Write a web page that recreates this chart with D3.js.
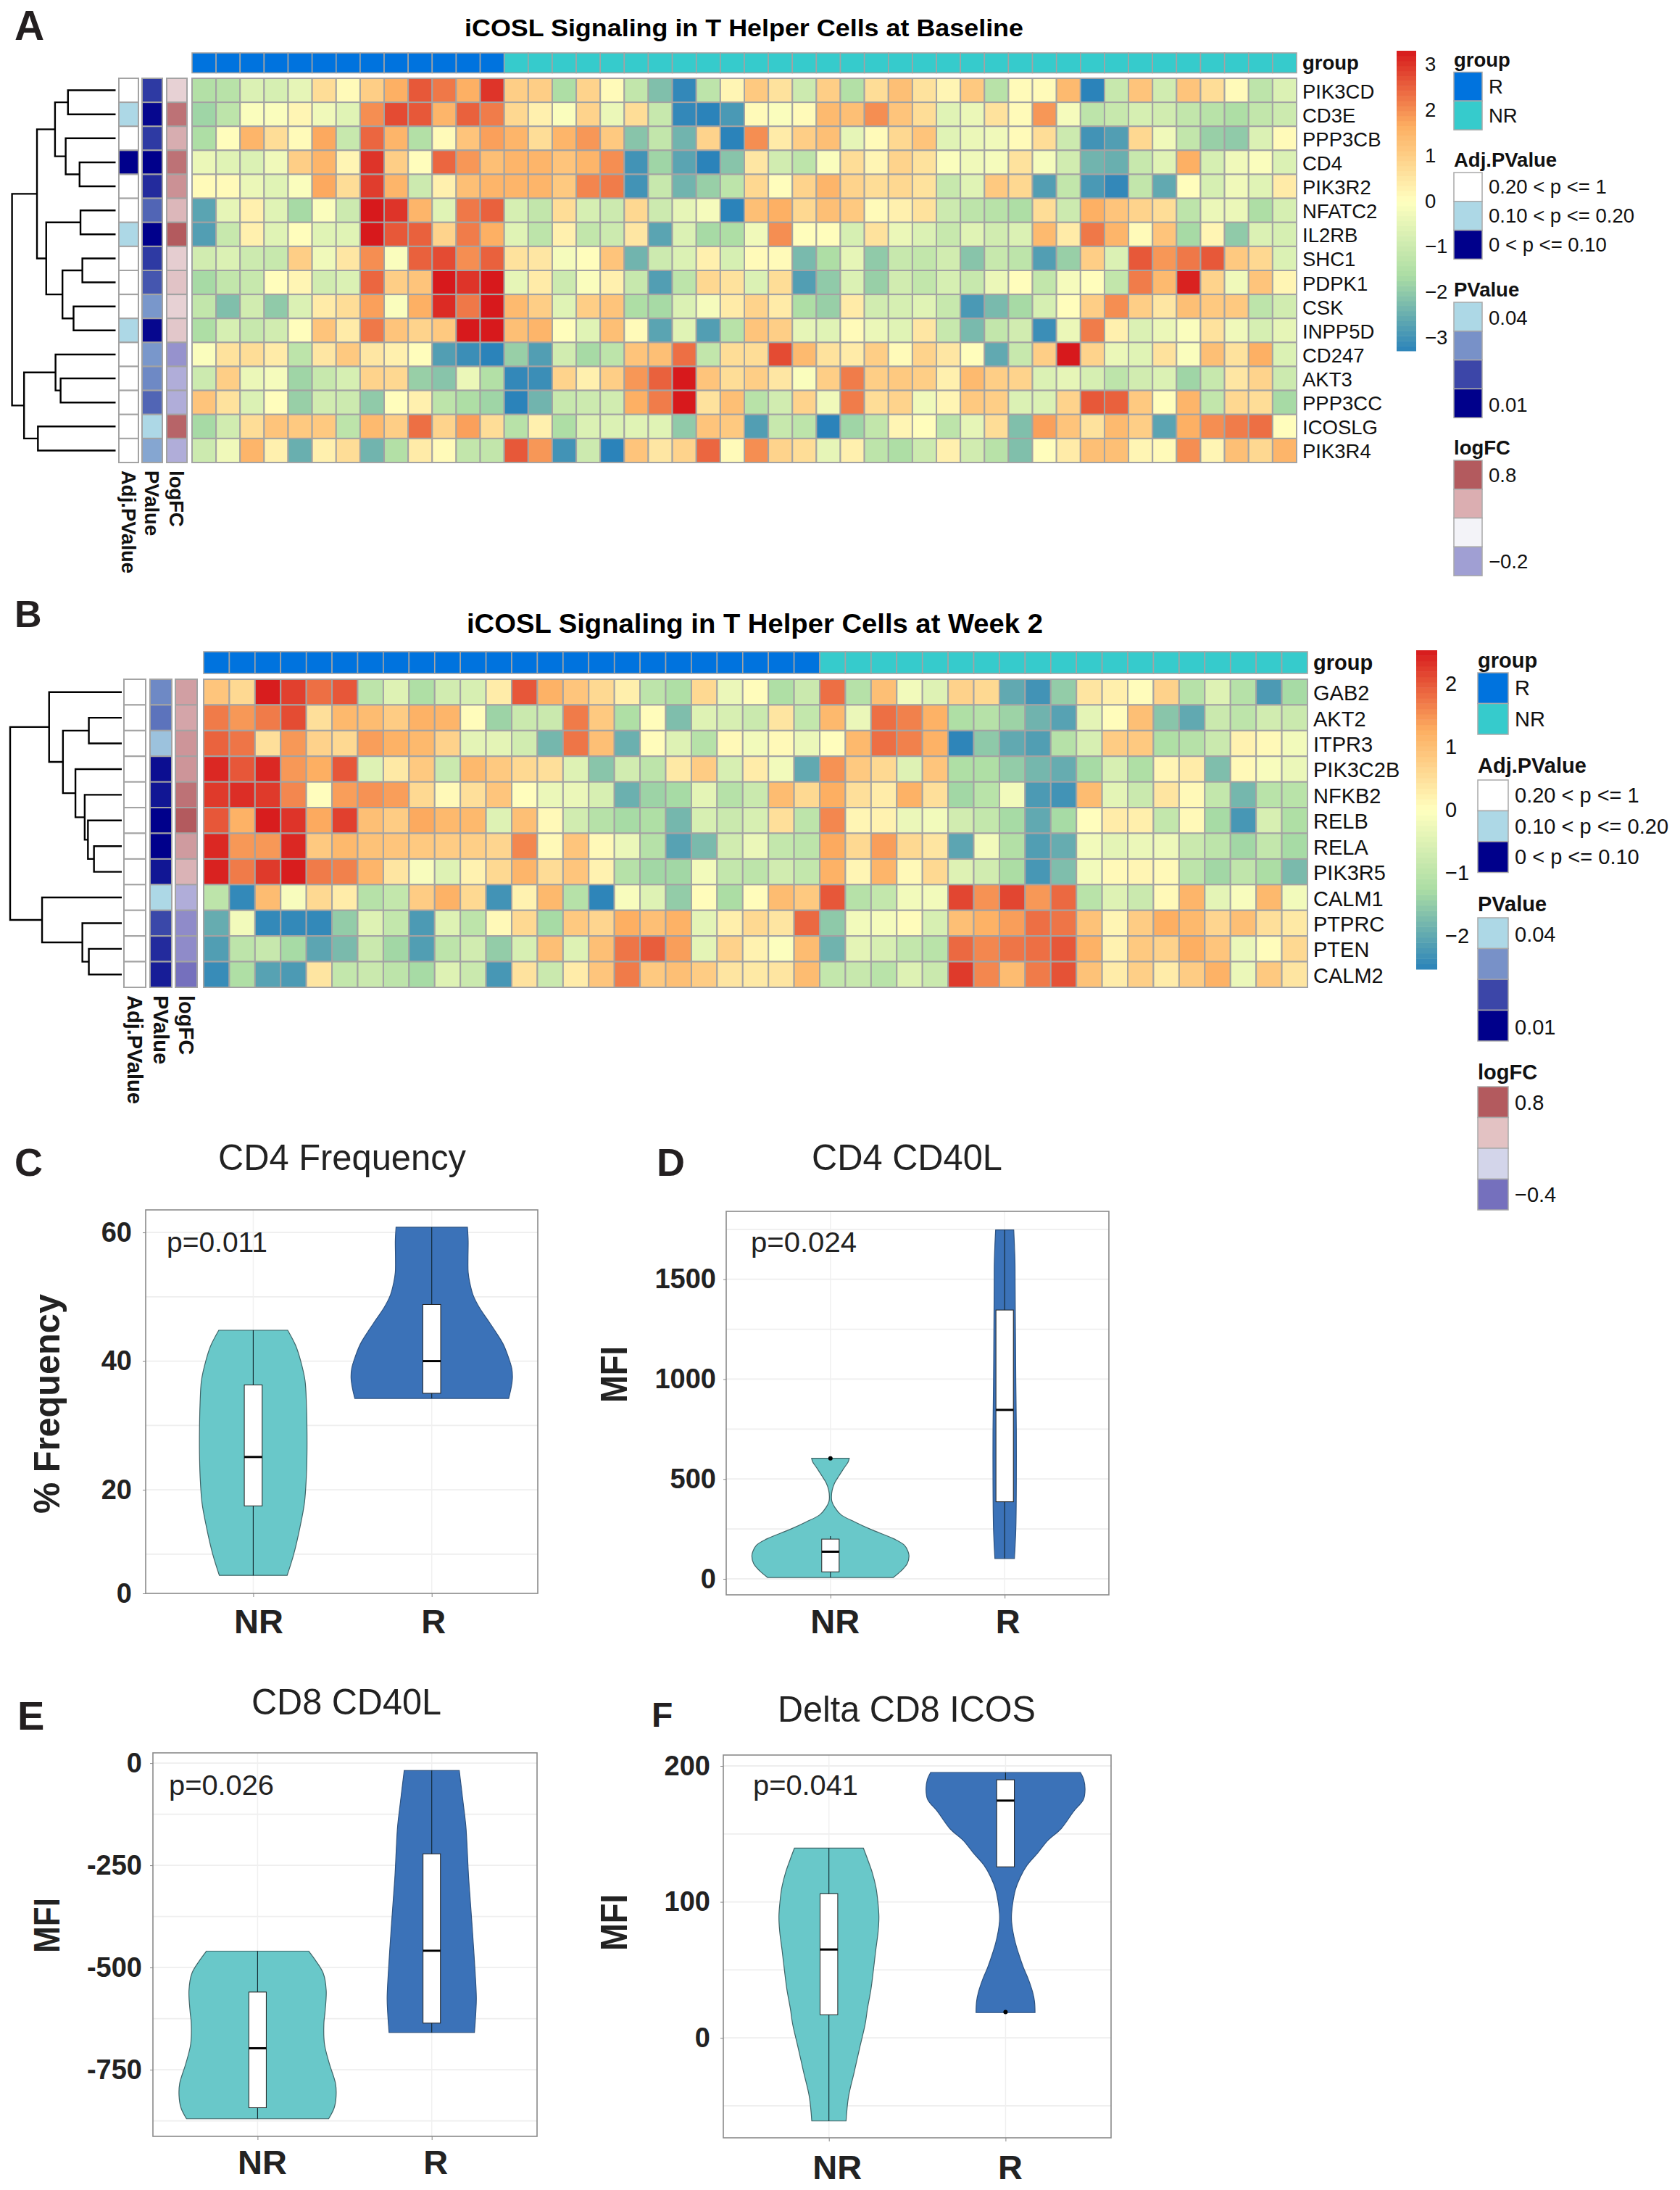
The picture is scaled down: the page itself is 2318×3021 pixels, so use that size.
<!DOCTYPE html>
<html><head><meta charset="utf-8">
<script src="https://cdn.jsdelivr.net/npm/d3@7"></script>
<style>html,body{margin:0;padding:0;background:#fff}svg{display:block}text{font-family:"Liberation Sans",Arial,sans-serif}</style>
</head><body><div id="c"></div>
<script>
// ---------- DATA ----------
const genesA=["PIK3CD","CD3E","PPP3CB","CD4","PIK3R2","NFATC2","IL2RB","SHC1","PDPK1","CSK","INPP5D","CD247","AKT3","PPP3CC","ICOSLG","PIK3R4"];
const genesB=["GAB2","AKT2","ITPR3","PIK3C2B","NFKB2","RELB","RELA","PIK3R5","CALM1","PTPRC","PTEN","CALM2"];
const nRespondersA=13, nNonRespondersA=33, nRespondersB=24, nNonRespondersB=19;
const heatA=[
[-1.5,-1.4,-0.7,-0.8,-0.5,0.7,0.1,1.0,1.6,2.6,2.25,1.6,3.0,1.0,1.0,-1.6,0.9,0.1,-1.2,-2.2,-3.2,-1.3,0.2,1.1,0.6,-1.0,1.0,-1.5,0.7,1.3,0.6,0.2,1.1,-1.4,0.1,0.1,1.4,-3.3,-1.1,1.2,-0.9,1.2,0.7,0.1,-1.3,-0.7],
[-1.8,-1.3,-0.1,-0.1,0.2,-0.3,-0.6,2.0,2.75,2.6,1.5,2.5,2.2,0.8,0.3,-0.1,0.9,-0.4,0.7,-1.1,-3.2,-3.3,-2.9,0.1,-0.1,0.1,1.4,1.3,2.0,1.2,0.7,-0.6,-0.4,0.6,0.1,1.9,-0.2,-1.3,-1.1,-0.8,-0.9,-1.2,-1.4,-1.6,-1.2,-1.0],
[-1.6,0.05,1.5,0.7,0.1,1.7,-1.1,2.45,1.5,-1.5,0.1,1.2,1.8,1.5,0.7,1.5,1.9,1.1,-2.1,-1.2,-2.4,0.9,-3.3,2.0,0.4,1.0,1.3,-0.5,0.1,0.8,1.2,-0.6,-0.4,-0.3,0.1,0.7,-1.0,-3.0,-2.8,0.8,-0.3,-1.2,-1.9,-2.0,-0.7,0.1],
[-0.4,-0.6,-0.7,-0.3,1.0,1.5,0.2,3.0,1.0,0.05,2.45,1.9,1.3,1.5,1.5,1.2,1.5,2.0,-3.0,-1.8,-2.7,-3.3,-2.1,0.5,-0.9,-1.3,-0.1,0.7,0.2,0.9,0.6,-0.1,-0.3,-0.2,0.6,-0.2,-0.9,-2.4,-2.5,-1.1,-0.6,1.6,-0.8,-0.3,-0.1,-0.7],
[0.1,0.1,-0.4,-0.6,-0.1,1.7,0.7,2.9,1.5,-1.0,0.3,1.3,1.5,1.5,1.5,1.1,2.1,2.2,-3.0,-1.1,-2.4,-1.9,-1.3,0.8,0.05,0.9,1.5,0.9,0.7,0.8,0.6,-1.1,-0.6,1.1,0.8,-2.8,-1.2,-2.9,-3.2,-1.2,-2.6,0.05,-0.8,-0.3,-0.6,0.4],
[-2.7,-0.5,0.3,-0.6,-1.7,-0.1,-1.0,3.3,3.0,1.5,-0.6,2.25,2.5,-0.8,-1.2,0.7,-0.8,-1.0,0.8,-1.0,-0.5,-0.2,-3.3,1.3,1.6,0.8,1.3,1.1,0.1,0.3,0.6,-1.0,-1.3,-1.4,-1.6,0.7,-1.0,1.6,1.2,0.9,0.7,-1.3,-0.4,-0.4,-1.6,-0.8],
[-2.8,-1.1,0.3,-0.6,0.05,-0.6,-0.6,3.3,2.6,2.5,0.9,2.2,1.6,-0.6,-1.3,0.3,-1.2,-1.0,0.5,-2.7,-0.7,-1.7,-1.6,-0.3,2.0,0.05,0.05,-0.8,0.6,-0.4,-0.7,-1.1,-0.6,-0.9,-0.7,1.4,0.4,2.25,1.5,0.1,1.2,-1.7,0.2,-2.0,-0.7,-0.8],
[-0.9,-0.7,-1.0,-1.1,1.0,-0.3,0.5,2.0,-0.1,2.5,2.75,2.0,2.5,0.6,0.5,-0.2,0.05,1.2,-2.4,-1.0,-0.7,0.3,-0.8,0.1,0.1,-2.3,-1.6,-0.5,-2.0,-1.1,-1.2,-0.9,-2.1,-1.1,-1.3,-2.8,-1.9,1.0,-0.7,2.6,1.9,2.25,2.6,1.1,0.8,-0.7],
[-1.7,-1.2,-1.1,0.05,0.2,-0.9,-0.7,2.45,1.0,1.2,3.3,3.0,3.3,-0.5,0.4,-1.0,-0.1,0.3,-1.1,-2.8,-1.3,0.8,0.6,-0.7,0.7,-2.8,-2.0,-0.7,-1.9,-0.9,-1.2,-0.8,-1.1,-0.4,0.05,-1.2,-0.2,0.05,-1.2,2.2,1.4,3.2,0.9,-0.3,1.2,0.2],
[-1.2,-2.2,-0.9,-2.0,-0.7,0.4,0.7,1.8,-0.1,1.6,3.1,2.25,3.3,1.4,1.0,-0.6,1.0,1.2,-1.6,-1.7,-0.7,-0.2,0.4,0.9,0.4,-1.6,-1.9,0.4,-0.9,-0.8,-0.6,-1.1,-2.9,-2.3,-1.7,-0.8,0.05,1.0,2.0,1.0,0.5,1.3,1.1,1.1,-1.3,-0.9],
[-1.6,-0.8,-1.1,-0.9,0.05,1.2,0.4,2.25,1.2,0.9,1.1,3.3,3.3,1.3,1.5,0.05,-0.6,1.3,0.1,-2.7,-0.6,-2.8,-1.4,1.2,1.0,-0.5,-0.6,0.1,-0.4,-0.6,0.5,-1.1,-2.3,-1.2,-0.9,-3.1,-0.4,2.2,0.3,-0.7,-0.4,-0.1,0.6,-0.3,-0.8,-0.5],
[-0.1,0.6,0.7,0.4,-1.3,0.5,1.1,0.5,0.3,0.05,-2.8,-3.1,-3.3,-1.9,-2.8,-0.9,-1.7,-1.3,1.2,1.3,2.35,-1.2,0.7,0.7,2.75,1.4,0.6,0.4,1.0,0.1,0.9,0.5,0.05,-2.6,-1.1,1.0,3.3,0.9,-0.4,-0.6,0.6,-0.1,1.3,0.6,1.6,-0.7],
[-1.0,1.0,-0.4,-0.2,-1.8,-1.1,-0.8,0.9,0.8,-1.9,-2.1,-0.4,-1.5,-3.2,-3.1,0.9,0.3,1.0,1.9,2.5,3.3,1.2,0.7,1.0,0.5,-0.1,1.0,2.2,1.0,1.1,1.0,0.3,1.4,1.0,0.9,-0.7,-0.5,-0.8,-1.3,-0.9,-0.7,-1.8,-1.1,0.5,0.9,-1.0],
[1.2,0.6,-0.7,0.05,-1.9,-0.9,-1.0,-2.0,0.05,0.3,-1.3,-1.6,-1.8,-3.3,-2.4,-1.1,-1.0,-0.9,1.6,2.2,3.3,0.6,1.3,-1.4,-0.9,0.9,-0.3,2.2,0.7,0.9,-0.3,0.2,1.1,1.0,-0.7,-0.7,0.9,2.6,2.5,1.1,0.05,1.5,-1.2,0.8,0.7,-1.7],
[-1.7,-0.9,0.7,1.2,1.1,1.1,-1.3,1.4,1.0,2.35,0.9,1.8,0.7,-1.4,0.3,-1.6,-0.7,-0.7,-0.6,-0.6,-2.0,1.2,1.1,-2.8,-1.1,-1.3,-3.3,-1.8,-1.2,0.2,0.05,-1.3,-0.5,0.7,-2.2,1.8,1.2,0.6,1.4,1.0,-2.7,1.6,2.0,2.2,2.35,0.05],
[-1.0,-0.3,1.5,0.3,-2.5,0.3,0.7,-2.4,-1.5,0.4,0.1,-1.2,-1.2,2.6,1.9,-3.0,-1.0,-3.3,1.2,0.5,0.9,2.45,0.1,2.0,0.9,0.7,-0.5,0.3,-1.3,-1.6,-1.0,0.3,-0.9,-1.4,-2.2,0.05,0.4,1.3,1.3,0.2,0.1,2.0,0.2,1.3,0.8,1.5]
];
const heatB=[
[0.9,0.6,2.5,2.2,1.8,2.0,-1.0,-0.5,-1.2,-0.7,-0.6,0.3,2.0,1.2,0.9,0.6,0.25,-1.0,-1.2,0.6,-0.3,0.05,-1.2,-0.8,1.8,-1.1,1.0,-0.2,-0.5,0.7,0.6,-2.0,-2.3,-1.5,0.4,0.25,0.05,0.7,-1.1,-0.5,-1.1,-2.2,-1.3],
[1.7,1.45,1.7,2.1,0.5,1.1,1.05,0.8,1.2,1.15,0.05,-1.4,-0.8,-0.8,1.7,0.85,-1.2,0.05,-1.7,-0.5,-0.6,-0.8,0.4,-0.9,1.1,-0.3,1.8,1.65,1.2,-1.2,-1.1,-1.4,-1.85,-2.1,-0.4,0.05,1.0,-1.6,-2.0,-0.8,-1.0,-0.7,-0.8],
[1.9,1.75,0.5,1.45,0.7,0.6,1.4,1.2,1.1,0.7,-0.4,-0.4,-0.7,-1.8,1.75,1.0,-1.9,0.05,-0.5,-1.1,0.1,-0.2,0.1,-0.3,0.03,1.1,1.8,1.65,1.2,-2.5,-1.55,-2.0,-2.15,-1.1,-0.6,0.8,0.85,-1.2,-1.1,-0.8,0.2,0.1,-0.2],
[2.4,2.0,2.4,1.45,1.25,2.0,-0.5,0.35,0.85,-0.8,1.1,0.85,0.6,0.5,-0.5,-1.6,-0.7,-1.0,0.35,0.8,-0.6,0.3,-0.2,-2.0,1.5,0.85,0.6,-0.5,0.9,-1.2,-1.2,-1.5,-1.8,-1.95,-1.3,-0.6,-1.2,0.15,0.3,-1.7,0.1,-0.1,-0.3],
[2.25,2.35,2.25,1.6,0.03,1.4,1.5,1.4,0.6,0.1,0.5,0.9,0.03,-0.3,-0.3,-0.6,-1.9,-1.4,-1.3,-0.4,-1.1,-0.8,1.05,0.6,1.25,0.5,0.3,1.2,0.5,-1.35,-1.05,-0.2,-2.2,-2.3,1.05,-0.4,-0.8,0.4,0.1,-0.9,-1.8,-1.05,-1.05],
[2.0,1.2,2.5,2.3,1.3,2.2,1.0,0.8,1.3,1.1,1.1,-0.5,1.0,0.1,-0.7,-1.1,-1.3,-1.2,-1.8,-0.6,-0.8,-0.6,0.5,-1.0,1.6,0.15,0.2,-0.3,-0.2,-0.7,-0.9,-1.3,-2.0,-1.3,0.03,0.3,0.25,-0.9,0.1,-1.3,-2.25,-0.6,-1.2],
[2.4,1.45,1.45,2.4,0.85,1.1,0.95,0.9,0.85,0.8,0.75,0.65,1.6,0.1,0.9,0.1,-0.3,-1.1,-2.1,-1.75,-0.7,-0.3,-0.9,-1.0,1.3,0.6,1.4,0.6,0.4,-2.05,-0.2,-1.15,-2.15,-1.95,-0.2,-0.4,-0.3,-0.25,-0.8,-1.0,-1.35,-0.9,-1.3],
[2.45,1.7,2.25,2.5,1.7,1.65,1.15,0.4,-0.1,-0.5,0.2,0.6,1.15,0.55,0.9,0.2,-1.1,-1.35,-1.35,-0.2,-0.9,-1.0,-0.7,-0.9,1.2,0.15,1.15,0.1,0.6,-0.5,-0.7,-1.25,-2.25,-1.7,-0.2,0.1,0.15,0.1,-1.0,-1.35,-0.95,-1.25,-1.75],
[-1.0,-2.45,1.05,-0.1,0.6,0.3,-1.1,-0.9,0.8,1.2,0.6,-2.3,0.2,1.1,-1.1,-2.5,-0.1,-0.5,-1.5,0.05,-1.25,0.05,1.05,0.85,2.0,-1.1,-0.9,-0.2,-0.2,2.15,1.5,2.15,1.45,1.85,-1.05,-0.5,-0.8,0.1,1.15,-0.4,-0.1,1.1,-0.2],
[-1.95,-0.2,-2.45,-2.45,-2.45,-1.5,-0.5,-0.9,-2.2,-0.5,-1.0,0.1,0.6,-1.3,0.85,0.65,1.25,1.0,1.2,-0.4,0.25,0.6,0.4,1.85,-1.55,-0.2,-0.15,0.05,-0.6,1.0,1.2,1.4,1.8,1.75,0.95,0.15,0.8,1.25,1.1,0.65,1.0,0.5,0.35],
[-2.15,-1.0,-0.85,-1.3,-2.05,-1.75,-0.8,-1.35,-2.15,-1.0,-0.7,-1.5,-0.6,1.0,-0.5,1.0,1.75,1.95,1.4,-0.4,0.7,0.2,-0.05,1.05,-1.85,-0.4,-0.6,-0.9,-1.05,1.85,1.6,1.75,1.8,2.0,1.2,0.2,0.85,0.7,1.25,0.9,-0.3,0.05,0.6],
[-2.4,-1.2,-2.1,-2.2,0.4,-0.9,-0.8,-1.0,-1.3,-0.5,-0.8,-2.25,0.45,-0.8,0.3,0.9,1.7,0.85,1.0,0.8,0.4,0.35,0.4,1.05,-0.9,-0.85,-1.05,-0.5,-0.8,2.25,1.6,1.05,1.7,2.05,0.95,0.3,0.75,0.3,0.8,1.2,-0.3,0.85,0.4]
];
const adjA=[0,1,0,2,0,0,1,0,0,0,1,0,0,0,0,0];
const adjB=[0,0,0,0,0,0,0,0,0,0,0,0];
const pvalA=[.018,.011,.018,.010,.016,.024,.010,.018,.022,.031,.011,.031,.029,.024,.040,.033];
const pvalB=[.029,.026,.037,.012,.013,.010,.010,.013,.040,.020,.016,.014];
const lfcA=[.2,.68,.38,.68,.52,.33,.8,.22,.27,.2,.25,-.3,-.22,-.22,.75,-.22];
const lfcB=[.45,.42,.5,.5,.68,.8,.47,.35,-.22,-.32,-.32,-.4];
// dendrograms: [merge height, left, right]; leaves are row indexes
const treeA=[1,[.759,[.585,[.46,0,1],[.482,2,[.348,3,4]]],[.67,[.339,5,6],[.513,[.321,7,8],[.406,9,10]]]],[.884,[.58,11,[.531,12,13]],[.75,14,15]]];
const treeB=[1,[.651,0,[.527,[.295,1,2],[.415,3,[.332,4,[.303,5,[.249,6,7]]]]]],[.714,8,[.353,9,[.295,10,11]]]];
const adjLabels=["0.20 < p <= 1","0.10 < p <= 0.20","0 < p <= 0.10"];
const groupLabels=["R","NR"];
const violinGroups=["NR","R"];
// violin outlines: [value, half width in units of group spacing]
const cNR=[[44.8,.193],[42.4,.238],[40,.266],[37,.29],[33.2,.298],[29.4,.301],[25.6,.301],[21.8,.297],[18,.287],[14.2,.262],[10,.227],[6.7,.19]];
const cR=[[60.8,.2],[58.7,.204],[56,.203],[53.8,.204],[52.2,.213],[50.3,.231],[48.4,.265],[46.5,.311],[44.6,.357],[42.7,.399],[40.8,.427],[38.9,.448],[37.4,.452],[35.9,.445],[34.2,.431]];
const dNR=[[604,.108],[584,.101],[554,.077],[517,.05],[480,.024],[444,.01],[413,.006],[389,.008],[358,.025],[321.5,.06],[285,.14],[248,.231],[199,.368],[169,.424],[138,.445],[114,.451],[77,.441],[40,.406],[7,.361]];
const dR=[[1747,.052],[1593,.059],[1471,.06],[1227,.062],[982,.064],[738,.067],[493,.067],[249,.064],[102,.056]];
const eNR=[[-460,.294],[-484,.335],[-514,.377],[-556,.394],[-610,.387],[-634,.381],[-687,.384],[-735,.412],[-783,.447],[-813,.451],[-843,.44],[-870,.408]];
const eR=[[-18,.158],[-96,.18],[-155,.196],[-215,.204],[-275,.211],[-335,.221],[-394,.231],[-484,.245],[-574,.256],[-610,.253],[-659,.245]];
const fNR=[[139.6,.195],[130.6,.221],[121.7,.245],[110.9,.266],[100.2,.277],[89.4,.283],[78.7,.279],[64.3,.265],[50,.252],[35.7,.238],[21.3,.218],[10.6,.206],[-7.4,.174],[-25.3,.143],[-43.2,.111],[-61.1,.097]];
const fR=[[195.2,.424],[189.8,.443],[182.6,.45],[175.4,.441],[166.5,.385],[153.9,.315],[145,.238],[136,.182],[127,.122],[118.1,.083],[109.1,.056],[100.2,.042],[91.2,.034],[85.8,.034],[78.7,.041],[69.7,.056],[60.7,.077],[51.8,.101],[42.8,.13],[33.8,.153],[26.7,.164],[18.6,.167]];
// box stats: [q1, median, q3, whisker low, whisker high, outlier or null]
const cBox=[[17.5,25.1,36.3,6.7,44.8,null],[35,40,48.8,34.2,60.8,null]];
const dBox=[[35,136,199,7,214,603],[386,846,1346,102,1747,null]];
const eBox=[[-843,-697.5,-560,-870,-460,null],[-636,-459,-222,-659,-18,null]];
const fBox=[[17,65,106,-61.1,139.6,null],[125.8,174.5,189.8,125.8,195.2,19]];

// ---------- LAYOUT ----------
const W=2318,H=3021,GRID="#a3a3a3",FONT='"Liberation Sans",Arial,sans-serif';
const svg=d3.select("#c").append("svg").attr("width",W).attr("height",H).attr("viewBox",`0 0 ${W} ${H}`);
const colR="#0073de",colNR="#36cbcc";
const spectral=["#2b83ba","#abdda4","#ffffbf","#fdae61","#d7191c"];
const pCol=d3.scaleLinear().domain([.01,.04]).range(["#00008b","#add8e6"]);
const lfcCol=d3.scaleLinear().domain([-.4,0,.8]).range(["#7570bd","#f8f8fb","#b35a5e"]);
const adjCol=["#ffffff","#add8e6","#00008b"];

function txt(g,s,x,y,size,opt={}){
  const t=g.append("text").attr("x",x).attr("y",y).attr("font-size",size).attr("fill",opt.fill||"#111")
    .attr("font-weight",opt.bold?"bold":"normal").attr("text-anchor",opt.anchor||"start").text(s);
  if(opt.middle) t.attr("dominant-baseline","central");
  if(opt.len) t.attr("textLength",opt.len).attr("lengthAdjust","spacingAndGlyphs");
  if(opt.rot!=null) t.attr("transform",`rotate(${opt.rot} ${x} ${y})`);
  return t;
}
function heatPanel(c){
  const g=svg.append("g");
  const n=c.data[0].length;
  const x=d3.scaleBand().domain(d3.range(n)).range([c.x0,c.x1]);
  const y=d3.scaleBand().domain(d3.range(c.genes.length)).range([c.y0,c.y1]);
  const col=d3.scaleLinear().domain([-c.max,-c.max/2,0,c.max/2,c.max]).range(spectral);
  const groupOf=d3.range(n).map(i=>i<c.nR?0:1);
  g.selectAll(null).data(groupOf).join("rect").attr("x",(d,i)=>x(i)).attr("y",c.ay0).attr("width",x.bandwidth()).attr("height",c.ay1-c.ay0)
    .attr("fill",d=>d?colNR:colR).attr("stroke",GRID).attr("stroke-width",1.6);
  c.data.forEach((row,r)=>{
    g.selectAll(null).data(row).join("rect").attr("x",(d,i)=>x(i)).attr("y",y(r)).attr("width",x.bandwidth()).attr("height",y.bandwidth())
      .attr("fill",d=>col(d)).attr("stroke",GRID).attr("stroke-width",2);
  });
  const annots=[[c.adjX,c.adj.map(d=>adjCol[d])],[c.pX,c.pval.map(d=>pCol(d))],[c.lfcX,c.lfc.map(d=>lfcCol(d))]];
  annots.forEach(([ax,cols])=>{
    g.selectAll(null).data(cols).join("rect").attr("x",ax[0]).attr("y",(d,i)=>y(i)).attr("width",ax[1]-ax[0]).attr("height",y.bandwidth())
      .attr("fill",d=>d).attr("stroke",GRID).attr("stroke-width",2);
  });
  ["Adj.PValue","PValue","logFC"].forEach((s,i)=>{
    const ax=annots[i][0], cx=(ax[0]+ax[1])/2-c.fs*.36;
    txt(g,s,cx,c.annY,c.fs,{bold:true,rot:90});
  });
  c.genes.forEach((s,i)=>txt(g,s,c.labelX,y(i)+y.bandwidth()/2+1.5,c.fs,{middle:true}));
  txt(g,"group",c.labelX,(c.ay0+c.ay1)/2,c.fs,{bold:true,middle:true});
  txt(g,c.title,c.tx,c.ty,c.tfs,{bold:true,len:c.tlen,fill:"#000"});
  txt(g,c.letter,c.lx,c.ly,c.lfs,{bold:true,fill:"#231f20"});
  const dx=d3.scaleLinear().domain([0,1]).range([c.dLeaf,c.dRoot]);
  const dp=d3.path();
  (function walk(n){
    if(typeof n==="number") return {x:dx(0),y:y(n)+y.bandwidth()/2};
    const a=walk(n[1]),b=walk(n[2]),nx=dx(n[0]);
    dp.moveTo(a.x,a.y);dp.lineTo(nx,a.y);dp.lineTo(nx,b.y);dp.lineTo(b.x,b.y);
    return {x:nx,y:(a.y+b.y)/2};
  })(c.tree);
  g.append("path").attr("d",dp.toString()).attr("fill","none").attr("stroke","#000").attr("stroke-width",2.4);
  const by=d3.scaleLinear().domain([-c.max,c.max]).range([c.barY1,c.barY0]);
  const bands=d3.range(60).map(i=>-c.max+(i+.5)*2*c.max/60);
  g.selectAll(null).data(bands).join("rect").attr("x",c.barX[0]).attr("width",c.barX[1]-c.barX[0])
    .attr("y",d=>by(d+c.max/60)).attr("height",d=>by(d-c.max/60)-by(d+c.max/60)+.5).attr("fill",d=>col(d));
  c.barTicks.forEach(v=>txt(g,v<0?"\u2212"+(-v):String(v),c.barX[1]+c.barPad,by(v),c.fs,{middle:true}));
  const L=c.leg;
  function swatches(top,cols){
    g.selectAll(null).data(cols).join("rect").attr("x",L.x).attr("width",L.w).attr("y",(d,i)=>top+i*L.h).attr("height",L.h)
      .attr("fill",d=>d).attr("stroke","#a9a9a9").attr("stroke-width",1.5);
  }
  txt(g,"group",L.x,L.groupT,c.fs,{bold:true,middle:true});
  swatches(L.group,[colR,colNR]);
  groupLabels.forEach((s,i)=>txt(g,s,L.x+L.w+L.pad,L.group+(i+.5)*L.h,c.fs,{middle:true}));
  txt(g,"Adj.PValue",L.x,L.adjT,c.fs,{bold:true,middle:true});
  swatches(L.adj,adjCol);
  adjLabels.forEach((s,i)=>txt(g,s,L.x+L.w+L.pad,L.adj+(i+.5)*L.h,c.fs,{middle:true}));
  txt(g,"PValue",L.x,L.pT,c.fs,{bold:true,middle:true});
  swatches(L.p,["#add8e6","#7891c8","#3c46a8","#00008b"]);
  txt(g,"0.04",L.x+L.w+L.pad,L.p+.55*L.h,c.fs,{middle:true});
  txt(g,"0.01",L.x+L.w+L.pad,L.p+3.55*L.h,c.fs,{middle:true});
  txt(g,"logFC",L.x,L.lT,c.fs,{bold:true,middle:true});
  swatches(L.l,L.lCols);
  txt(g,"0.8",L.x+L.w+L.pad,L.l+.52*L.h,c.fs,{middle:true});
  txt(g,L.lMin,L.x+L.w+L.pad,L.l+3.5*L.h,c.fs,{middle:true});
}
heatPanel({data:heatA,genes:genesA,nR:nRespondersA,adj:adjA,pval:pvalA,lfc:lfcA,tree:treeA,max:3.3,
  x0:265,x1:1789,y0:108,y1:638,ay0:73,ay1:100.5,adjX:[164,191],pX:[196,224],lfcX:[230,258],annY:649,fs:27.5,labelX:1797,
  title:"iCOSL Signaling in T Helper Cells at Baseline",tx:641,ty:50,tfs:34,tlen:771,letter:"A",lx:20,ly:55,lfs:57,
  dLeaf:159.5,dRoot:16.6,barX:[1927,1954],barY0:70,barY1:484,barPad:12,barTicks:[3,2,1,0,-1,-2,-3],
  leg:{x:2006,w:39,h:39.8,pad:9,groupT:82,group:99.5,adjT:220,adj:238,pT:399,p:417,lT:617,l:635,lMin:"\u22120.2",lCols:["#b35a5e","#dbaeb1","#f3f3f8","#a09fd3"]}});
heatPanel({data:heatB,genes:genesB,nR:nRespondersB,adj:adjB,pval:pvalB,lfc:lfcB,tree:treeB,max:2.53,
  x0:281,x1:1804,y0:937,y1:1362,ay0:899,ay1:929,adjX:[171,201],pX:[207,237],lfcX:[242,272],annY:1373,fs:29,labelX:1812,
  title:"iCOSL Signaling in T Helper Cells at Week 2",tx:644,ty:873,tfs:36,tlen:795,letter:"B",lx:20,ly:865,lfs:52,
  dLeaf:168,dRoot:14,barX:[1954,1983],barY0:897,barY1:1337,barPad:11,barTicks:[2,1,0,-1,-2],
  leg:{x:2039,w:42,h:42.5,pad:9,groupT:910.5,group:928,adjT:1056,adj:1076,pT:1247,p:1266,lT:1479,l:1499,lMin:"\u22120.4",lCols:["#b35a5e","#e3c2c3","#d3d5ea","#7570bd"]}});

function violinPanel(c){
  const g=svg.append("g");
  const [l,r,t,b]=c.box;
  const y=d3.scaleLinear().domain(c.domain).range([b,t]);
  const x=d3.scalePoint().domain(violinGroups).range(c.cx);
  const step=x.step();
  g.append("rect").attr("x",l).attr("y",t).attr("width",r-l).attr("height",b-t).attr("fill","#fff");
  c.minor.concat(c.major).forEach(v=>g.append("line").attr("x1",l).attr("x2",r).attr("y1",y(v)).attr("y2",y(v)).attr("stroke","#eeeeee").attr("stroke-width",1.8));
  violinGroups.forEach(s=>g.append("line").attr("x1",x(s)).attr("x2",x(s)).attr("y1",t).attr("y2",b).attr("stroke","#f0f0f0").attr("stroke-width",1.5));
  [[c.nr,"#69c8c9","#3f6467"],[c.rr,"#3b72b8","#2d5280"]].forEach(([prof,fill,edge],i)=>{
    const cx=x(violinGroups[i]);
    const area=d3.area().y(d=>y(d[0])).x0(d=>cx-d[1]*step).x1(d=>cx+d[1]*step).curve(d3.curveCatmullRom.alpha(.5));
    g.append("path").attr("d",area(prof)+"Z").attr("fill",fill).attr("stroke",edge).attr("stroke-width",1.2);
    const [q1,med,q3,lo,hi,out]=c.boxes[i];
    const bw=.05*step;
    g.append("line").attr("x1",cx).attr("x2",cx).attr("y1",y(lo)).attr("y2",y(hi)).attr("stroke","#10242c").attr("stroke-width",1.1);
    g.append("rect").attr("x",cx-bw).attr("width",2*bw).attr("y",y(q3)).attr("height",y(q1)-y(q3)).attr("fill","#fff").attr("stroke","#222").attr("stroke-width",1);
    g.append("line").attr("x1",cx-bw).attr("x2",cx+bw).attr("y1",y(med)).attr("y2",y(med)).attr("stroke","#000").attr("stroke-width",3);
    if(out!=null) g.append("circle").attr("cx",cx).attr("cy",y(out)).attr("r",3).attr("fill","#000");
  });
  g.append("rect").attr("x",l).attr("y",t).attr("width",r-l).attr("height",b-t).attr("fill","none").attr("stroke","#8a8a8a").attr("stroke-width",1.6);
  const ya=g.append("g").attr("transform",`translate(${l},0)`).call(d3.axisLeft(y).tickValues(c.ticks).tickFormat((d,i)=>c.tickLabels[i]).tickSize(4).tickPadding(c.tickPad));
  ya.select(".domain").remove();
  ya.selectAll("line").attr("stroke","#888");
  ya.selectAll("text").attr("font-size",38).attr("font-weight","bold").attr("font-family",FONT).attr("fill","#222");
  const xa=g.append("g").attr("transform",`translate(0,${b})`).call(d3.axisBottom(x).tickSize(5));
  xa.select(".domain").remove();
  xa.selectAll("line").attr("stroke","#888");
  xa.selectAll("text").attr("font-size",47).attr("font-weight","bold").attr("font-family",FONT).attr("fill","#222")
    .attr("y",c.xBase-b).attr("dy",0).attr("dx",(d,i)=>c.xdx[i]);
  txt(g,c.title,c.tpos[0],c.tpos[1],50,{len:c.tpos[2],fill:"#222"});
  txt(g,c.p,c.ppos[0],c.ppos[1],38,{len:c.ppos[2],fill:"#222"});
  const yt=c.ylab;
  txt(g,c.yTitle,yt[0],yt[1],yt[3],{bold:true,rot:-90,len:yt[2],fill:"#222"});
  txt(g,c.letter,c.lpos[0],c.lpos[1],c.lpos[2],{bold:true,fill:"#231f20"});
}
violinPanel({nr:cNR,rr:cR,boxes:cBox,domain:[3.9,63.5],box:[201,742,1669,2198],cx:[349.4,595.7],
  ticks:[3.9,20,40,60],tickLabels:["0","20","40","60"],major:[20,40,60],minor:[10,30,50],tickPad:15,xBase:2253,xdx:[7,2],
  title:"CD4 Frequency",tpos:[301,1614,342],p:"p=0.011",ppos:[230,1727,139],yTitle:"% Frequency",ylab:[82,2088,303,50],letter:"C",lpos:[20,1622,54]});
violinPanel({nr:dNR,rr:dR,boxes:dBox,domain:[-80,1840],box:[1002,1530,1671,2200],cx:[1145.8,1386.2],
  ticks:[0,500,1000,1500],tickLabels:["0","500","1000","1500"],major:[0,500,1000,1500],minor:[250,750,1250,1750],tickPad:10,xBase:2253,xdx:[6,4],
  title:"CD4 CD40L",tpos:[1120,1614,263],p:"p=0.024",ppos:[1036,1727,146],yTitle:"MFI",ylab:[865,1935,78,52],letter:"D",lpos:[906,1622,54]});
violinPanel({nr:eNR,rr:eR,boxes:eBox,domain:[-913,25],box:[211,741,2418,2947],cx:[355.4,595.7],
  ticks:[0,-250,-500,-750],tickLabels:["0","-250","-500","-750"],major:[0,-250,-500,-750],minor:[-125,-375,-625,-875],tickPad:11,xBase:2999,xdx:[6,5],
  title:"CD8 CD40L",tpos:[347,2365,262],p:"p=0.026",ppos:[233,2476,145],yTitle:"MFI",ylab:[82,2694,76,50],letter:"E",lpos:[24,2386,56]});
violinPanel({nr:fNR,rr:fR,boxes:fBox,domain:[-73.5,208],box:[998,1533,2421,2949],cx:[1143.7,1387.4],
  ticks:[0,100,200],tickLabels:["0","100","200"],major:[0,100,200],minor:[-50,50,150],tickPad:14,xBase:3006,xdx:[11,6],
  title:"Delta CD8 ICOS",tpos:[1073,2375,356],p:"p=0.041",ppos:[1039,2476,145],yTitle:"MFI",ylab:[865,2691,78,52],letter:"F",lpos:[899,2382,48]});
</script></body></html>
